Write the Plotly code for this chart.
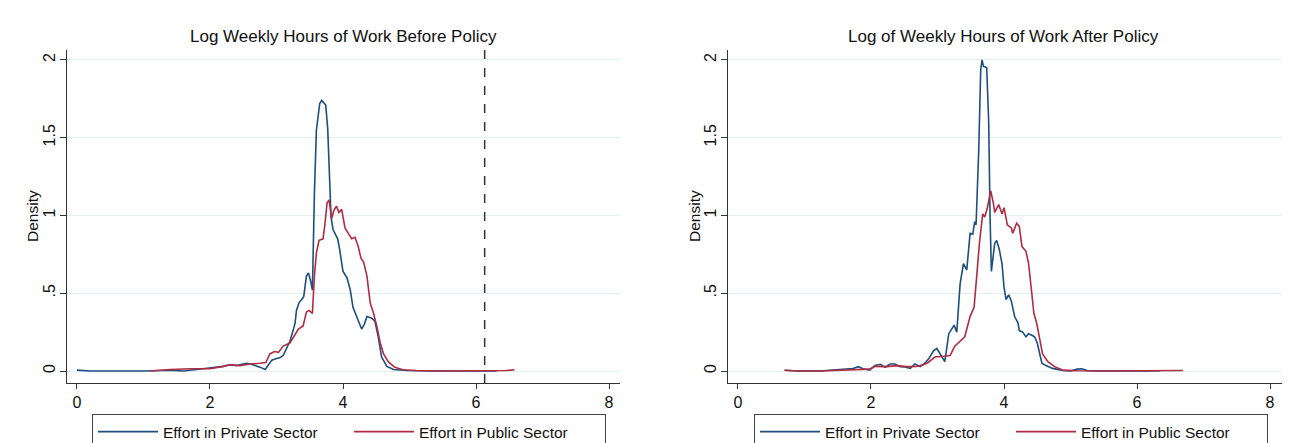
import plotly.graph_objects as go

# ---------------- data ----------------
before_private_x = [0.00, 0.10, 0.20, 0.50, 1.00, 1.40, 1.60, 1.80, 2.00, 2.20, 2.30, 2.40, 2.55, 2.65, 2.75,
                    2.83, 2.88, 2.93, 3.00, 3.05, 3.10, 3.15, 3.20, 3.25, 3.28, 3.30, 3.34, 3.38, 3.41, 3.45,
                    3.48, 3.51, 3.54, 3.57, 3.60, 3.65, 3.68, 3.72, 3.74, 3.77, 3.80, 3.82, 3.85, 3.88, 3.92,
                    3.95, 4.00, 4.06, 4.11, 4.15, 4.21, 4.28, 4.32, 4.36, 4.43, 4.48, 4.53, 4.58, 4.66, 4.76,
                    4.96, 5.30, 6.00, 6.31]
before_private_y = [0.006, 0.003, 0.000, 0.000, 0.000, 0.005, 0.000, 0.010, 0.020, 0.030, 0.040, 0.035, 0.050, 0.040, 0.025,
                    0.010, 0.040, 0.070, 0.080, 0.085, 0.100, 0.150, 0.190, 0.260, 0.310, 0.390, 0.440, 0.460, 0.480, 0.610,
                    0.630, 0.585, 0.520, 1.140, 1.550, 1.720, 1.740, 1.720, 1.710, 1.560, 1.200, 0.990, 0.910, 0.880, 0.850,
                    0.780, 0.640, 0.600, 0.520, 0.410, 0.350, 0.270, 0.300, 0.350, 0.340, 0.320, 0.220, 0.090, 0.030, 0.010,
                    0.003, 0.000, 0.000, 0.001]

before_public_x = [1.11, 1.40, 1.70, 2.00, 2.20, 2.30, 2.45, 2.60, 2.75, 2.84, 2.90, 2.97, 3.03, 3.10, 3.20,
                   3.28, 3.33, 3.40, 3.45, 3.49, 3.54, 3.57, 3.60, 3.64, 3.70, 3.73, 3.76, 3.79, 3.83, 3.86,
                   3.90, 3.94, 3.98, 4.03, 4.08, 4.13, 4.18, 4.23, 4.27, 4.31, 4.36, 4.41, 4.46, 4.51, 4.56,
                   4.61, 4.68, 4.78, 4.90, 5.10, 5.50, 6.20, 6.45, 6.58]
before_public_y = [0.000, 0.010, 0.015, 0.015, 0.030, 0.040, 0.035, 0.045, 0.050, 0.055, 0.110, 0.125, 0.120, 0.160, 0.180,
                   0.240, 0.270, 0.290, 0.380, 0.390, 0.370, 0.610, 0.760, 0.840, 0.850, 0.950, 1.080, 1.100, 0.980, 1.030,
                   1.060, 1.020, 1.040, 0.920, 0.885, 0.850, 0.860, 0.800, 0.725, 0.700, 0.610, 0.435, 0.370, 0.285, 0.180,
                   0.110, 0.060, 0.024, 0.008, 0.003, 0.000, 0.000, 0.003, 0.008]

after_private_x = [0.70, 0.90, 1.23, 1.43, 1.63, 1.73, 1.81, 1.88, 1.98, 2.06, 2.14, 2.21, 2.29, 2.36, 2.44,
                   2.51, 2.59, 2.66, 2.74, 2.81, 2.87, 2.94, 2.99, 3.06, 3.11, 3.17, 3.25, 3.29, 3.34, 3.39,
                   3.44, 3.49, 3.53, 3.56, 3.58, 3.62, 3.65, 3.67, 3.69, 3.74, 3.77, 3.79, 3.81, 3.86, 3.89,
                   3.93, 3.97, 4.00, 4.03, 4.07, 4.11, 4.16, 4.21, 4.23, 4.28, 4.33, 4.37, 4.42, 4.46, 4.50,
                   4.54, 4.57, 4.63, 4.73, 4.88, 5.00, 5.10, 5.17, 5.25, 5.40, 6.20, 6.30, 6.35]
after_private_y = [0.005, 0.000, 0.000, 0.005, 0.010, 0.016, 0.028, 0.015, 0.006, 0.035, 0.043, 0.024, 0.045, 0.045, 0.028,
                   0.026, 0.017, 0.045, 0.028, 0.050, 0.080, 0.130, 0.145, 0.100, 0.060, 0.240, 0.295, 0.250, 0.560, 0.690,
                   0.650, 0.885, 0.880, 0.960, 0.940, 1.420, 1.940, 2.000, 1.960, 1.950, 1.600, 1.000, 0.640, 0.820, 0.840,
                   0.780, 0.690, 0.540, 0.460, 0.490, 0.450, 0.350, 0.310, 0.260, 0.250, 0.220, 0.240, 0.230, 0.220, 0.180,
                   0.110, 0.050, 0.035, 0.017, 0.004, 0.000, 0.012, 0.015, 0.003, 0.000, 0.000, 0.004, 0.002]

after_public_x = [0.70, 0.90, 1.23, 1.53, 1.83, 1.98, 2.06, 2.24, 2.39, 2.54, 2.69, 2.79, 2.86, 2.96, 3.09,
                  3.19, 3.26, 3.34, 3.41, 3.49, 3.55, 3.59, 3.63, 3.68, 3.71, 3.75, 3.80, 3.84, 3.86, 3.92,
                  3.97, 4.00, 4.05, 4.11, 4.13, 4.19, 4.23, 4.27, 4.33, 4.37, 4.41, 4.45, 4.49, 4.53, 4.58,
                  4.66, 4.76, 4.88, 5.10, 5.50, 6.69]
after_public_y = [0.005, 0.000, 0.000, 0.003, 0.010, 0.012, 0.030, 0.028, 0.035, 0.028, 0.030, 0.040, 0.055, 0.090, 0.095,
                  0.100, 0.160, 0.190, 0.220, 0.350, 0.410, 0.610, 0.820, 1.010, 0.990, 1.050, 1.160, 1.080, 1.020, 1.070,
                  1.010, 1.050, 0.940, 0.920, 0.885, 0.950, 0.930, 0.800, 0.770, 0.690, 0.540, 0.370, 0.310, 0.220, 0.110,
                  0.060, 0.028, 0.006, 0.002, 0.000, 0.003]

policy_line_x = 6.13

titles = ["Log Weekly Hours of Work Before Policy", "Log of Weekly Hours of Work After Policy"]
series_names = ["Effort in Private Sector", "Effort in Public Sector"]
y_title = "Density"
x_ticks = [0, 2, 4, 6, 8]
y_ticks = [0, 0.5, 1, 1.5, 2]
y_tick_text = ["0", ".5", "1", "1.5", "2"]

# ---------------- layout helpers (window pixels -> figure) ----------------
OFF = 8                      # page body margin of the html output
W, H = 1293 - OFF, 443 - OFF


def px(xw):
    return (xw - OFF) / W


def py(yw):
    return 1 - (yw - OFF) / H


BLUE = "#1d4f7e"
RED = "#b02c42"
AXIS = "#333333"
GRID = "#e3eef0"
FONT = "Liberation Sans, Arial, sans-serif"

fig = go.Figure()

fig.add_trace(go.Scatter(x=before_private_x, y=before_private_y, mode="lines", name=series_names[0],
                         line=dict(color=BLUE, width=1.6), xaxis="x", yaxis="y", legend="legend"))
fig.add_trace(go.Scatter(x=before_public_x, y=before_public_y, mode="lines", name=series_names[1],
                         line=dict(color=RED, width=1.6), xaxis="x", yaxis="y", legend="legend"))
fig.add_trace(go.Scatter(x=after_private_x, y=after_private_y, mode="lines", name=series_names[0],
                         line=dict(color=BLUE, width=1.6), xaxis="x2", yaxis="y2", legend="legend2"))
fig.add_trace(go.Scatter(x=after_public_x, y=after_public_y, mode="lines", name=series_names[1],
                         line=dict(color=RED, width=1.6), xaxis="x2", yaxis="y2", legend="legend2"))

ydom = [py(383), py(50)]

xcommon = dict(tickmode="array", tickvals=x_ticks, showgrid=False, zeroline=False, showline=True,
               linecolor=AXIS, linewidth=1, ticks="outside", ticklen=5, tickcolor=AXIS,
               tickfont=dict(family=FONT, size=16, color="#111"))
ycommon = dict(tickmode="array", tickvals=y_ticks, ticktext=y_tick_text, showgrid=True, gridcolor=GRID,
               gridwidth=1, zeroline=False, showline=True, linecolor=AXIS, linewidth=1, ticks="outside",
               ticklen=6, tickcolor=AXIS, tickangle=-90, ticklabelstandoff=-1, range=[-0.077, 2.064], domain=ydom,
               tickfont=dict(family=FONT, size=16, color="#111"))

legend_common = dict(orientation="h", xanchor="left", y=py(414), yanchor="top",
                     bordercolor="#444", borderwidth=1, bgcolor="white", itemwidth=60, entrywidth=181,
                     entrywidthmode="pixels", font=dict(family=FONT, size=15.5, color="#111"))

fig.update_layout(
    width=W, height=H,
    margin=dict(l=0, r=0, t=0, b=0, autoexpand=False),
    paper_bgcolor="white", plot_bgcolor="white",
    font=dict(family=FONT, color="#111"),
    xaxis=dict(xcommon, domain=[px(67), px(620)], range=[-0.150, 8.165], anchor="y"),
    yaxis=dict(ycommon, anchor="x"),
    xaxis2=dict(xcommon, domain=[px(728), px(1282)], range=[-0.150, 8.18], anchor="y2"),
    yaxis2=dict(ycommon, anchor="x2"),
    legend=dict(legend_common, x=px(92)),
    legend2=dict(legend_common, x=px(754)),
    showlegend=True,
)

# panel titles
for t, cx in zip(titles, [343, 1003]):
    fig.add_annotation(text=t, x=px(cx), y=py(37), xref="paper", yref="paper", showarrow=False,
                       xanchor="center", yanchor="middle", font=dict(family=FONT, size=17, color="#111"))

# y-axis titles
for cx in [32, 694]:
    fig.add_annotation(text=y_title, x=px(cx), y=py(216), xref="paper", yref="paper", showarrow=False,
                       textangle=-90, xanchor="center", yanchor="middle",
                       font=dict(family=FONT, size=15.5, color="#111"))

# policy reference line (left panel)
fig.add_shape(type="line", x0=policy_line_x, x1=policy_line_x, xref="x", y0=0, y1=1, yref="y domain",
              line=dict(color="#333", width=1.5, dash="dash"))

fig.write_html("out.html")
